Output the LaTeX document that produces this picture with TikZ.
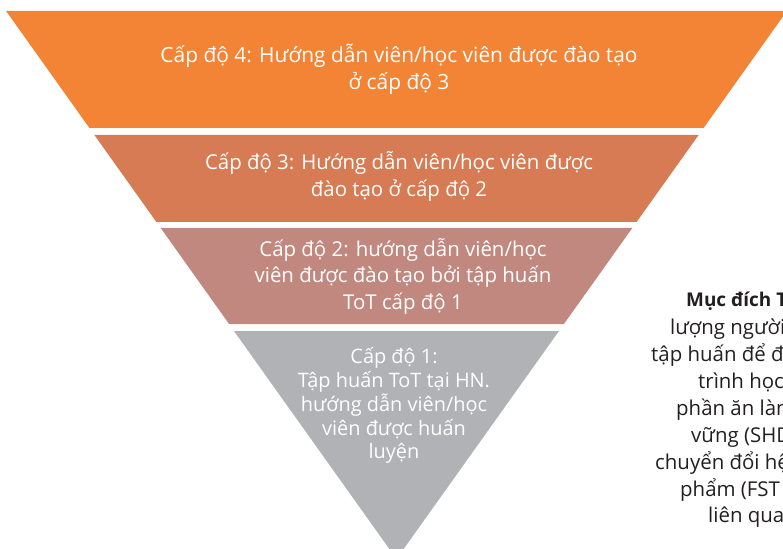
\documentclass[tikz,border=0pt]{standalone}
\usepackage{fontspec}
\setmainfont{Open Sans}
\definecolor{lvfour}{HTML}{F48435}
\definecolor{lvthree}{HTML}{D77B55}
\definecolor{lvtwo}{HTML}{C0887F}
\definecolor{lvone}{HTML}{B1B2B5}
\definecolor{sideink}{HTML}{231F20}
\begin{document}
\begin{tikzpicture}[x=1bp,y=-1bp,
  bandtext/.style={text=white, inner sep=0pt, anchor=base,
    font=\fontsize{20.5}{27}\selectfont},
  smalltext/.style={text=white, inner sep=0pt, anchor=base,
    font=\fontsize{20}{24}\selectfont},
  sidetext/.style={text=sideink, inner sep=0pt, anchor=base west,
    font=\fontsize{20.5}{27}\selectfont}]
\useasboundingbox (0,0) rectangle (783,549);
\clip (0,0) rectangle (783,549);

% funnel bands, widest at the top
\fill[lvfour]  (6.1,11)   -- (786.9,11)  -- (703.6,128) -- (89.4,128)  -- cycle;
\fill[lvthree] (94.4,135) -- (698.6,135) -- (636.6,222) -- (156.4,222) -- cycle;
\fill[lvtwo]   (160.7,228) -- (632.3,228) -- (563.9,324) -- (229.1,324) -- cycle;
\fill[lvone]   (234.0,331) -- (559.0,331) -- (396.5,559) -- cycle;

% level 4
\node[bandtext, font=\fontsize{21}{27}\selectfont] (l4a) at (399,62.7) {Cấp độ 4: Hướng dẫn viên/học viên được đào tạo};
\node[bandtext, font=\fontsize{21}{27}\selectfont] (l4b) at (399,90) {ở cấp độ 3};
% level 3
\node[bandtext] (l3a) at (399,169.5) {Cấp độ 3: Hướng dẫn viên/học viên được};
\node[bandtext] (l3b) at (399,196.5) {đào tạo ở cấp độ 2};
% level 2
\node[bandtext] (l2a) at (403,256.5) {Cấp độ 2: hướng dẫn viên/học};
\node[bandtext] (l2b) at (403,283) {viên được đào tạo bởi tập huấn};
\node[bandtext] (l2c) at (403,310) {ToT cấp độ 1};
% level 1
\node[smalltext] (l1a) at (394,363) {Cấp độ 1:};
\node[smalltext] (l1b) at (394,387) {Tập huấn ToT tại HN.};
\node[smalltext] (l1c) at (394,411) {hướng dẫn viên/học};
\node[smalltext] (l1d) at (394,435) {viên được huấn};
\node[smalltext] (l1e) at (394,458.5) {luyện};

% side note, running past the right edge
\node[sidetext, font=\fontsize{19}{27}\selectfont\bfseries] (s1) at (686,307) {Mục đích T};
\node[sidetext] (s2) at (670,334) {lượng người};
\node[sidetext] (s3) at (651,361) {tập huấn để đ};
\node[sidetext] (s4) at (698,388) {trình học};
\node[sidetext] (s5) at (676,415) {phần ăn làn};
\node[sidetext] (s6) at (691,442) {vững (SHD};
\node[sidetext] (s7) at (655,469) {chuyển đổi hệ};
\node[sidetext] (s8) at (680,496) {phẩm (FST};
\node[sidetext] (s9) at (708,522) {liên qua};
\end{tikzpicture}
\end{document}
